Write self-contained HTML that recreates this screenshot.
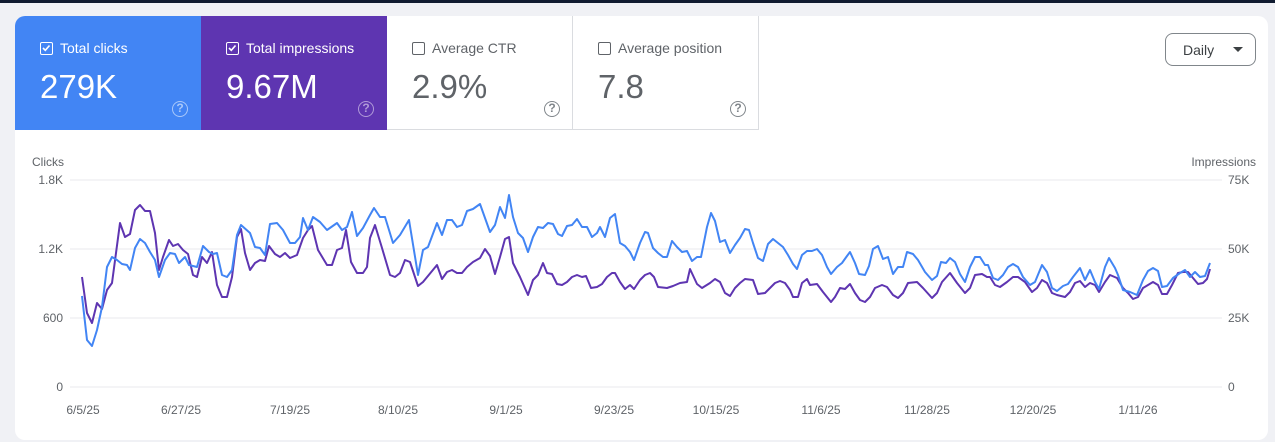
<!DOCTYPE html>
<html><head><meta charset="utf-8"><style>
*{margin:0;padding:0;box-sizing:border-box}
body{width:1275px;height:442px;background:#f0f1f5;font-family:"Liberation Sans",sans-serif;position:relative;overflow:hidden}
.top{position:absolute;left:0;top:0;width:1275px;height:3px;background:#101b30}
.card{position:absolute;left:15px;top:16px;width:1253px;height:424px;background:#fff;border-radius:10px;overflow:hidden}
.tab{position:absolute;top:0;height:114px;width:186px}
.lbl{position:absolute;left:25px;top:24px;font-size:14px;display:flex;align-items:center}
.cb{width:13px;height:13px;border:1.5px solid currentColor;border-radius:2px;margin-right:7px;position:relative}
.val{position:absolute;left:25px;top:52px;font-size:33px}
.help{position:absolute;left:157px;top:85px;width:16px;height:16px;border:1.5px solid;border-radius:50%;font-size:12px;text-align:center;line-height:13px;font-weight:bold}
.btn{position:absolute;left:1150px;top:17px;width:91px;height:33px;border:1px solid #80868b;border-radius:8px;font-size:14px;color:#3c4043}
</style></head><body>
<div class="top"></div>
<div class="card">
<div class="tab" style="left:0;background:#4285f4;color:#fff">
 <div class="lbl"><div class="cb" style="border-color:#fff"><svg width="10" height="10" style="position:absolute;left:0;top:0"><path d="M2 5 L4.3 7.3 L8.5 2.5" stroke="#fff" stroke-width="1.6" fill="none"/></svg></div>Total clicks</div>
 <div class="val">279K</div><div class="help" style="color:#a9c8fa">?</div></div>
<div class="tab" style="left:186px;background:#5e35b1;color:#fff">
 <div class="lbl"><div class="cb" style="border-color:#fff"><svg width="10" height="10" style="position:absolute;left:0;top:0"><path d="M2 5 L4.3 7.3 L8.5 2.5" stroke="#fff" stroke-width="1.6" fill="none"/></svg></div>Total impressions</div>
 <div class="val">9.67M</div><div class="help" style="color:#b09ad8">?</div></div>
<div class="tab" style="left:372px;color:#5f6368;border-right:1px solid #dadce0;border-bottom:1px solid #dadce0">
 <div class="lbl"><div class="cb" style="color:#5f6368;border-width:1px"></div>Average CTR</div>
 <div class="val" style="color:#5f6368">2.9%</div><div class="help" style="color:#80868b">?</div></div>
<div class="tab" style="left:558px;color:#5f6368;border-right:1px solid #dadce0;border-bottom:1px solid #dadce0">
 <div class="lbl"><div class="cb" style="color:#5f6368;border-width:1px"></div>Average position</div>
 <div class="val" style="color:#5f6368">7.8</div><div class="help" style="color:#80868b">?</div></div>
<div class="btn"><span style="position:absolute;left:17px;top:8px">Daily</span><svg style="position:absolute;left:67px;top:13px" width="10" height="6"><path d="M0 0 L10 0 L5 5Z" fill="#3c4043"/></svg></div>
</div>
<svg width="1275" height="442" style="position:absolute;left:0;top:0" font-family="Liberation Sans, sans-serif" font-size="12" fill="#5f6368">
<g stroke="#e8eaed" stroke-width="1">
<line x1="70" x2="1222" y1="180" y2="180"/><line x1="70" x2="1222" y1="249" y2="249"/><line x1="70" x2="1222" y1="318" y2="318"/><line x1="70" x2="1222" y1="387" y2="387"/></g>
<text x="32" y="166">Clicks</text>
<text x="1256" y="166" text-anchor="end">Impressions</text>
<g text-anchor="end"><text x="63" y="184">1.8K</text><text x="63" y="253">1.2K</text><text x="63" y="322">600</text><text x="63" y="391">0</text></g>
<g><text x="1228" y="184">75K</text><text x="1228" y="253">50K</text><text x="1228" y="322">25K</text><text x="1228" y="391">0</text></g>
<g text-anchor="middle"><text x="83" y="414">6/5/25</text><text x="181" y="414">6/27/25</text><text x="290" y="414">7/19/25</text><text x="398" y="414">8/10/25</text><text x="506" y="414">9/1/25</text><text x="614" y="414">9/23/25</text><text x="716" y="414">10/15/25</text><text x="821" y="414">11/6/25</text><text x="927" y="414">11/28/25</text><text x="1033" y="414">12/20/25</text><text x="1138" y="414">1/11/26</text></g>
<polyline fill="none" stroke="#5e35b1" stroke-width="2" stroke-linejoin="round" points="82,277 87,313 92,323 97,303 102,309 107,290 112,283 120,223 125,237 130,234 135,210 140,205 145,211 150,211 155,233 159,270 163,257 169,240 173,246 178,244 183,250 188,254 193,275 197,277 202,257 207,263 212,252 217,285 222,297 227,297 232,277 237,237 241,229 245,253 250,270 255,263 260,260 265,261 269,246 275,254 280,257 285,253 290,258 297,255 303,238 308,230 312,226 318,250 327,265 332,265 337,250 342,248 346,230 351,262 357,273 363,273 367,267 370,238 375,225 382,248 390,275 395,277 400,273 405,260 410,262 418,286 423,282 437,265 442,279 447,272 452,270 457,273 462,273 467,267 473,262 480,258 485,249 490,256 495,274 500,257 505,239 509,237 513,263 520,277 528,295 533,280 538,275 543,263 547,273 552,274 557,284 562,285 567,282 572,277 577,275 582,277 586,276 591,288 597,287 602,284 607,277 612,273 615,273 620,282 625,289 630,285 634,289 640,280 645,275 650,273 654,277 658,287 667,288 673,286 680,283 687,282 690,269 697,284 702,288 710,283 715,279 720,282 725,293 730,296 735,288 740,283 745,279 753,280 758,294 765,293 770,288 775,283 780,281 785,283 790,290 793,297 798,297 802,283 807,279 810,285 817,284 823,292 831,302 835,297 840,288 845,289 850,284 855,293 860,300 865,302 870,297 875,288 882,285 887,287 893,295 898,298 903,293 908,283 917,282 923,288 932,298 937,293 942,282 950,273 957,283 965,293 970,288 975,275 982,274 987,277 990,277 995,285 1000,287 1007,282 1013,277 1018,277 1025,282 1032,292 1037,288 1042,280 1047,283 1052,293 1057,295 1065,297 1070,292 1075,283 1080,281 1085,287 1090,283 1095,285 1099,292 1105,282 1110,275 1117,278 1123,288 1128,293 1133,299 1138,297 1143,288 1148,285 1153,282 1158,285 1162,294 1167,294 1172,285 1178,273 1183,272 1188,272 1193,278 1198,284 1203,283 1207,279 1210,269"/>
<polyline fill="none" stroke="#4285f4" stroke-width="2" stroke-linejoin="round" points="82,296 87,340 92,346 97,330 102,307 107,267 112,257 117,260 122,264 127,265 130,270 135,248 140,239 145,243 150,252 155,260 159,277 165,260 170,253 175,254 179,263 185,257 189,265 197,267 203,246 209,252 213,254 217,253 222,275 227,277 232,270 237,235 241,225 250,233 255,247 260,248 265,255 270,224 277,223 283,230 290,243 295,243 300,237 303,218 308,230 313,217 320,222 327,230 337,223 342,230 347,227 352,212 357,236 363,228 370,215 374,208 380,217 385,217 393,243 400,235 409,220 418,275 423,250 428,247 437,223 442,235 447,220 452,220 457,227 462,225 467,211 473,209 480,204 485,218 490,232 495,225 500,207 505,218 509,195 513,217 518,233 523,238 528,252 533,237 538,227 543,228 548,223 553,224 558,234 562,236 567,226 572,225 577,219 582,227 587,227 592,237 597,233 600,227 605,237 610,218 615,214 620,243 625,246 630,252 634,260 640,243 645,232 648,233 653,248 658,253 663,257 667,257 672,241 677,247 682,252 687,251 692,261 697,257 701,257 707,227 711,213 715,221 720,242 725,240 730,253 735,245 740,238 745,229 749,230 753,243 758,258 763,261 768,244 773,239 778,243 783,247 788,255 793,264 797,269 802,255 807,251 812,251 817,249 822,255 827,267 831,274 837,267 842,263 847,256 850,252 855,263 859,274 865,275 869,266 873,249 878,246 883,259 888,257 893,274 898,267 903,267 907,252 913,254 918,260 925,272 932,280 937,276 941,262 946,263 950,258 955,262 960,274 965,282 970,267 975,257 980,257 985,265 988,265 993,278 998,280 1003,275 1008,267 1013,264 1018,267 1023,277 1030,285 1035,282 1042,265 1047,272 1052,288 1057,291 1063,286 1068,284 1073,277 1080,268 1085,280 1090,270 1095,282 1099,289 1105,267 1109,258 1115,268 1118,275 1123,290 1130,292 1137,295 1143,280 1148,271 1153,268 1158,271 1162,287 1167,286 1173,278 1180,273 1185,270 1190,277 1195,272 1200,277 1205,276 1210,263"/>
</svg>
</body></html>
